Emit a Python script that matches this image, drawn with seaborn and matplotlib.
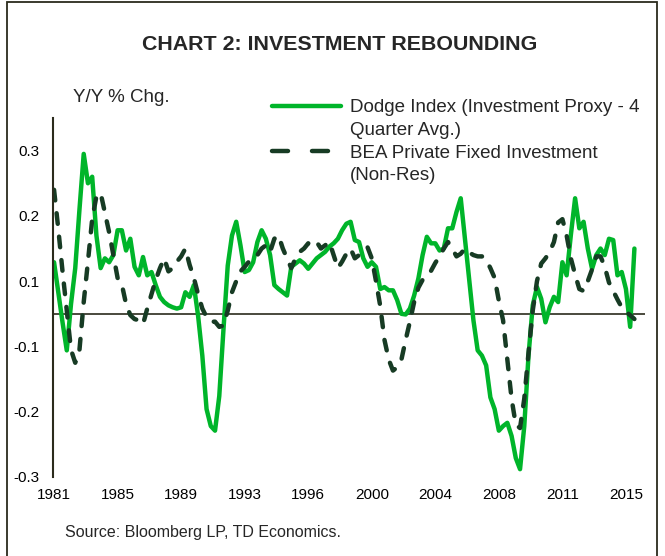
import numpy as np
import pandas as pd
import seaborn as sns
import matplotlib.pyplot as plt
from matplotlib.lines import Line2D
from matplotlib.patches import Rectangle

# quarterly Y/Y % change, starting 1981Q4
dodge = [0.079, 0.033, -0.013, -0.056, 0.015, 0.07, 0.16, 0.245, 0.2, 0.21,
         0.12, 0.07, 0.085, 0.079, 0.09, 0.128, 0.128, 0.097, 0.115, 0.072,
         0.059, 0.087, 0.059, 0.064, 0.044, 0.026, 0.018, 0.013, 0.01, 0.008,
         0.01, 0.033, 0.026, 0.044, -0.003, -0.064, -0.146, -0.172, -0.179, -0.126,
         -0.023, 0.074, 0.12, 0.141, 0.105, 0.064, 0.067, 0.079, 0.11, 0.128,
         0.115, 0.09, 0.044, 0.038, 0.033, 0.028, 0.072, 0.077, 0.082, 0.077,
         0.069, 0.077, 0.085, 0.09, 0.095, 0.103, 0.108, 0.115, 0.128, 0.138,
         0.141, 0.113, 0.11, 0.085, 0.072, 0.079, 0.072, 0.038, 0.041, 0.036,
         0.036, 0.021, 0.0, -0.001, 0.008, 0.028, 0.054, 0.09, 0.118, 0.108,
         0.108, 0.097, 0.1, 0.131, 0.131, 0.156, 0.177, 0.115, 0.054, -0.01,
         -0.056, -0.064, -0.079, -0.128, -0.146, -0.179, -0.172, -0.167, -0.187, -0.221,
         -0.238, -0.172, -0.064, 0.013, 0.041, 0.023, -0.013, 0.01, 0.026, 0.018,
         0.079, 0.059, 0.121, 0.177, 0.131, 0.141, 0.1, 0.069, 0.09, 0.1,
         0.09, 0.115, 0.113, 0.059, 0.064, 0.038, -0.02, 0.1]

bea = [0.19, 0.13, 0.065, 0.005, -0.055, -0.075, -0.055, 0.018, 0.08, 0.145,
       0.18, 0.185, 0.155, 0.125, 0.09, 0.055, 0.045, 0.015, -0.002, -0.008,
       -0.01, -0.016, 0.008, 0.03, 0.052, 0.07, 0.085, 0.065, 0.07, 0.08,
       0.088, 0.1, 0.075, 0.055, 0.03, 0.008, -0.005, -0.012, -0.012, -0.02,
       -0.018, 0.005, 0.033, 0.05, 0.065, 0.072, 0.08, 0.082, 0.09, 0.1,
       0.105, 0.095, 0.115, 0.12, 0.1, 0.085, 0.07, 0.085, 0.095, 0.1,
       0.108, 0.105, 0.11, 0.1, 0.105, 0.11, 0.09, 0.07, 0.08, 0.092,
       0.1, 0.085, 0.09, 0.095, 0.102, 0.085, 0.05, 0.012, -0.04, -0.07,
       -0.087, -0.082, -0.07, -0.04, -0.012, 0.018, 0.04, 0.052, 0.06, 0.066,
       0.078, 0.088, 0.1, 0.11, 0.1, 0.088, 0.092, 0.1, 0.094, 0.09,
       0.088, 0.088, 0.083, 0.07, 0.055, 0.02, -0.01, -0.07, -0.13, -0.17,
       -0.175, -0.13, -0.06, 0.005, 0.05, 0.077, 0.085, 0.095, 0.11, 0.14,
       0.145, 0.12, 0.085, 0.06, 0.038, 0.035, 0.05, 0.068, 0.088, 0.088,
       0.072, 0.048, 0.035, 0.022, 0.01, 0.003, -0.002, -0.008]

x_labels = ['1981', '1985', '1989', '1993', '1996', '2000', '2004', '2008', '2011', '2015']
y_ticks = [0.25, 0.15, 0.05, -0.05, -0.15, -0.25]
y_labels = ['0.3', '0.2', '0.1', '-0.1', '-0.2', '-0.3']

dodge_name = 'Dodge Index (Investment Proxy - 4 Quarter Avg.)'
bea_name = 'BEA Private Fixed Investment (Non-Res)'

q = np.arange(len(dodge))
df = pd.DataFrame({'q': np.concatenate([q, q]),
                   'value': dodge + bea,
                   'series': [dodge_name] * len(dodge) + [bea_name] * len(bea)})

sns.set_theme(style='white')
plt.rcParams['font.family'] = ['Liberation Sans', 'DejaVu Sans']
plt.rcParams['lines.dash_capstyle'] = 'round'
plt.rcParams['lines.solid_capstyle'] = 'round'

green = '#00b52a'
dark = '#173b24'
axis_col = '#2b2b1c'

fig = plt.figure(figsize=(6.65, 5.56), dpi=100)
ax = fig.add_axes([53 / 665, 1 - 477 / 556, 592 / 665, 359 / 556])

sns.lineplot(data=df, x='q', y='value', hue='series', style='series',
             palette={dodge_name: green, bea_name: dark},
             dashes={dodge_name: '', bea_name: (2.4, 2.9)},
             linewidth=3.2, legend=False, ax=ax)

ax.axhline(0, color=axis_col, lw=1.2, zorder=0)
ax.set_xlim(-0.25, 139.5)
ax.set_ylim(-0.25, 0.30)
ax.set_xticks(np.arange(0, len(dodge), 15))
ax.set_xticklabels(x_labels)
ax.set_yticks(y_ticks)
ax.set_yticklabels(y_labels)
ax.tick_params(length=0, labelsize=11, colors='black')
ax.tick_params(axis='x', pad=8)
ax.tick_params(axis='y', pad=10)
ax.set_xlabel('')
ax.set_ylabel('')
for s in ['top', 'right', 'bottom']:
    ax.spines[s].set_visible(False)
ax.spines['left'].set_color(axis_col)
ax.spines['left'].set_linewidth(1.5)

# legend: second line of each label gets an empty handle
blank = Line2D([], [], alpha=0)
handles = [Line2D([], [], color=green, lw=3.2),
           blank,
           Line2D([], [], color=dark, lw=3.2, dashes=(3.6, 5.4)),
           blank]
labels = ['Dodge Index (Investment Proxy - 4', 'Quarter Avg.)',
          'BEA Private Fixed Investment', '(Non-Res)']
fig.legend(handles, labels, loc='upper left', bbox_to_anchor=(272 / 665, 1 - 99 / 556),
           frameon=False, fontsize=13.5, handlelength=3.7, handletextpad=0.45,
           labelspacing=0.3, borderpad=0, borderaxespad=0)

fig.text(340 / 665, 1 - 45 / 556, 'CHART 2: INVESTMENT REBOUNDING',
         ha='center', va='center', fontsize=15.4, fontweight='bold')
fig.text(73 / 665, 1 - 98 / 556, 'Y/Y % Chg.', ha='left', va='center', fontsize=13.5)
fig.text(65 / 665, 1 - 532 / 556, 'Source: Bloomberg LP, TD Economics.',
         ha='left', va='center', fontsize=11.5)

fig.patches.append(Rectangle((7 / 665, -0.05), 650 / 665, 1.05 - 1.5 / 556,
                             transform=fig.transFigure, fill=False,
                             edgecolor=axis_col, lw=1.3))

fig.savefig('out.png', dpi=100)
